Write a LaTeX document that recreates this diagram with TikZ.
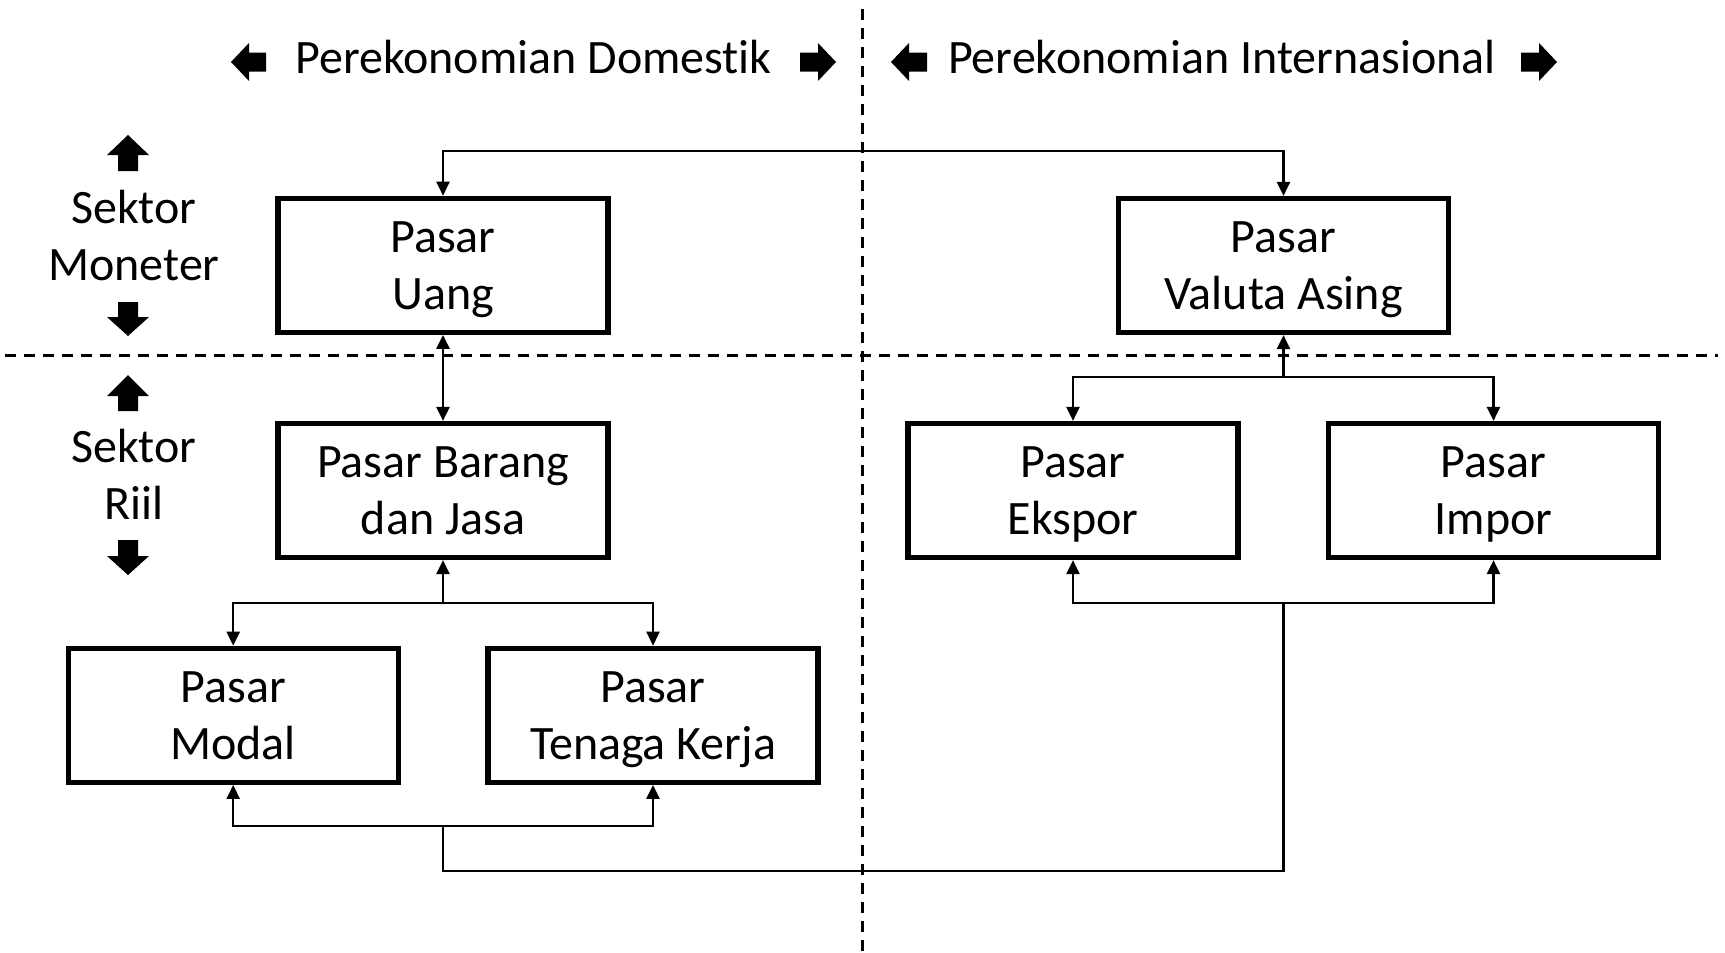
\documentclass[tikz,border=0pt]{standalone}
\usepackage{fontspec}
\setmainfont{Carlito}[Ligatures=NoCommon]
\usetikzlibrary{arrows.meta,calc}
\tikzset{
  market/.style={draw,line width=5.2pt,minimum width=330pt,minimum height=134pt,
    align=center,inner sep=0pt,text depth=-3pt,font=\fontsize{48}{57}\selectfont},
  lbl/.style={align=center,inner sep=0pt,font=\fontsize{48}{57}\selectfont},
  conn/.style={line width=2.3pt,line join=miter,-{Triangle[length=14pt,width=13pt]}},
  conn2/.style={line width=2.3pt,{Triangle[length=14pt,width=13pt]}-{Triangle[length=14pt,width=13pt]}},
  plain/.style={line width=2.3pt},
  divider/.style={line width=2.8pt,dash pattern=on 10.5pt off 8.5pt},
}
\begin{document}
\begin{tikzpicture}[x=1pt,y=-1pt]
\useasboundingbox (0,0) rectangle (1725,953);
\fill[white] (0,0) rectangle (1725,953);

% dividers
\coordinate (vd1) at (862.3,9);
\coordinate (vd2) at (862.3,953);
\coordinate (hd1) at (5,355.5);
\coordinate (hd2) at (1718,355.5);
\draw[divider] (vd1) -- (vd2);
\draw[divider] (hd1) -- (hd2);

% headers
\node[lbl,anchor=base] (dom) at (533.5,73) {Perekonomian Domestik};
\node[lbl,anchor=base] (intl) at (1222,73) {Perekonomian Internasional};

% header block arrows (left / right)
\fill (231,62) -- (249,43) -- (249,52.5) -- (266,52.5) -- (266,71.5) -- (249,71.5) -- (249,81) -- cycle;
\fill (836,62) -- (818,43) -- (818,52.5) -- (800,52.5) -- (800,71.5) -- (818,71.5) -- (818,81) -- cycle;
\fill (891,62) -- (909,43) -- (909,52.5) -- (927,52.5) -- (927,71.5) -- (909,71.5) -- (909,81) -- cycle;
\fill (1557,62) -- (1539,43) -- (1539,52.5) -- (1521,52.5) -- (1521,71.5) -- (1539,71.5) -- (1539,81) -- cycle;

% sector labels (base = baseline of last line)
\node[lbl,anchor=base] (mon) at (134,280) {Sektor\\Moneter};
\node[lbl,anchor=base] (riil) at (134,519) {Sektor\\Riil};

% sector block arrows (up / down)
\fill (128,135) -- (149,155) -- (138,155) -- (138,171) -- (118,171) -- (118,155) -- (107,155) -- cycle;
\fill (118,302) -- (138,302) -- (138,317) -- (149,317) -- (128,336) -- (107,317) -- (118,317) -- cycle;
\fill (128,375) -- (149,396) -- (138,396) -- (138,411) -- (118,411) -- (118,396) -- (107,396) -- cycle;
\fill (118,540) -- (138,540) -- (138,556) -- (149,556) -- (128,575) -- (107,556) -- (118,556) -- cycle;

% markets
\node[market] (uang) at (443,265.3) {Pasar\\Uang};
\node[market] (valuta) at (1283.5,265.5) {Pasar\\Valuta Asing};
\node[market] (barang) at (443,490.5) {Pasar Barang\\dan Jasa};
\node[market] (ekspor) at (1073,490.5) {Pasar\\Ekspor};
\node[market] (impor) at (1493.5,490.5) {Pasar\\Impor};
\node[market] (modal) at (233.2,715.3) {Pasar\\Modal};
\node[market] (tenaga) at (653,715.3) {Pasar\\Tenaga Kerja};

% junction points
\coordinate (vs) at (valuta.south |- 0,377);
\coordinate (bs) at (barang.south |- 0,603);
\coordinate (ms) at (barang.south |- 0,826);
\coordinate (low) at (barang.south |- 0,871);
\coordinate (es) at (valuta.south |- 0,603);

% connectors
\draw[conn2] (uang.north) -- ++(0,-45) -| (valuta.north);
\draw[conn2] (uang.south) -- (barang.north);

\draw[conn] (vs) -- (valuta.south);
\draw[conn] (vs) -| (ekspor.north);
\draw[conn] (vs) -| (impor.north);

\draw[conn] (bs) -- (barang.south);
\draw[conn] (bs) -| (modal.north);
\draw[conn] (bs) -| (tenaga.north);

\draw[conn] (ms) -| (modal.south);
\draw[conn] (ms) -| (tenaga.south);
\draw[plain,line join=miter] (ms) -- (low) -| (es);
\draw[conn] (es) -| (ekspor.south);
\draw[conn] (es) -| (impor.south);
\end{tikzpicture}
\end{document}
